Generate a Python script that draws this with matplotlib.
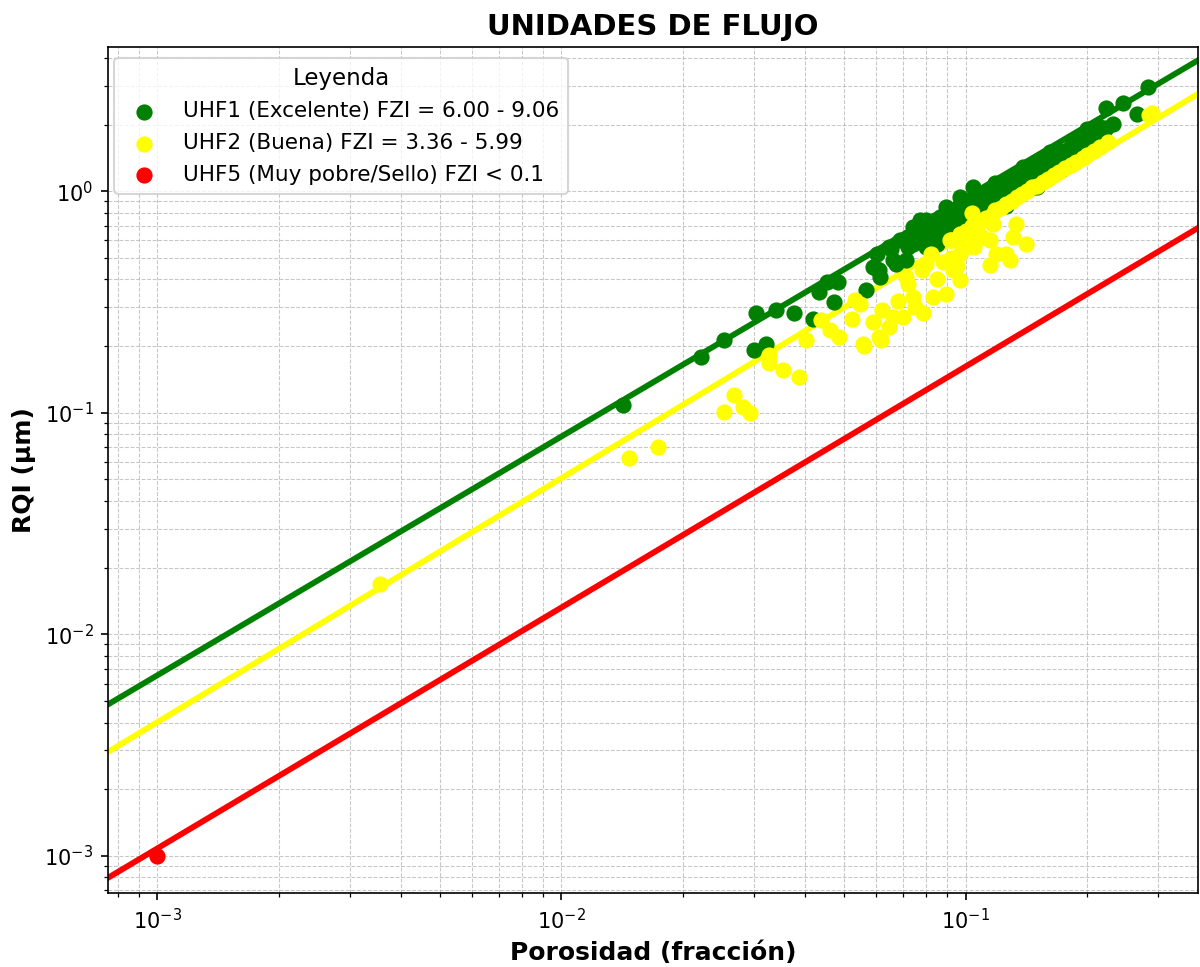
import numpy as np
import matplotlib
matplotlib.use("Agg")
import matplotlib.pyplot as plt

# --- Flow-unit samples: porosity (fraction) and RQI (um) ---
uhf1_phi = [0.0142, 0.0222, 0.0253, 0.0300, 0.0320, 0.0303, 0.0339, 0.0377, 0.0418,
            0.0434, 0.0473, 0.0455, 0.0482, 0.0567, 0.0605, 0.0605, 0.0611, 0.0615,
            0.0654, 0.0673, 0.0712, 0.0719, 0.0740, 0.0770, 0.0799, 0.0830, 0.0863,
            0.0896, 0.0930, 0.0966, 0.1004, 0.1043, 0.1063,
            0.0589, 0.0648, 0.0660, 0.0755, 0.0800, 0.0830, 0.0740, 0.0950,
            0.085, 0.087, 0.088, 0.090, 0.091, 0.093, 0.094, 0.096, 0.097, 0.098,
            0.100, 0.101, 0.102, 0.104, 0.105, 0.106, 0.108, 0.109, 0.110, 0.112,
            0.113, 0.115, 0.116, 0.117, 0.119, 0.120, 0.121, 0.123, 0.125, 0.126,
            0.128, 0.130, 0.131, 0.133, 0.135, 0.136, 0.138, 0.140, 0.142, 0.144,
            0.146, 0.148, 0.150, 0.152, 0.154, 0.156, 0.158, 0.160, 0.163, 0.166,
            0.168, 0.171, 0.174, 0.176, 0.179, 0.182, 0.185, 0.188, 0.191, 0.194,
            0.197, 0.200, 0.204, 0.207, 0.211, 0.215, 0.219, 0.223,
            0.100, 0.104, 0.112, 0.126, 0.150, 0.095, 0.090, 0.085, 0.080,
            0.088, 0.092, 0.096, 0.099, 0.103, 0.107, 0.111, 0.114, 0.118, 0.122,
            0.127, 0.132, 0.137, 0.141, 0.147, 0.153, 0.159, 0.165, 0.172, 0.178,
            0.186, 0.193, 0.202, 0.212,
            0.106, 0.118, 0.139, 0.162, 0.185, 0.205, 0.215, 0.200,
            0.072, 0.078, 0.081, 0.084, 0.076, 0.069,
            0.223, 0.245, 0.231, 0.266, 0.282, 0.210]
uhf1_rqi = [0.109, 0.179, 0.213, 0.192, 0.204, 0.282, 0.290, 0.282, 0.266,
            0.351, 0.316, 0.389, 0.389, 0.357, 0.523, 0.448, 0.440, 0.410,
            0.551, 0.471, 0.488, 0.622, 0.690, 0.739, 0.644, 0.714, 0.765,
            0.849, 0.690, 0.942, 0.820, 1.044, 0.879,
            0.455, 0.560, 0.488, 0.666, 0.740, 0.620, 0.580, 0.666,
            0.66, 0.74, 0.70, 0.78, 0.72, 0.80, 0.75, 0.84, 0.71, 0.78,
            0.88, 0.76, 0.83, 0.92, 0.80, 0.87, 0.95, 0.84, 0.90, 0.99,
            0.86, 0.94, 1.03, 0.90, 0.98, 1.07, 0.93, 1.02, 1.10, 0.97,
            1.06, 1.15, 1.00, 1.10, 1.20, 1.04, 1.14, 1.25, 1.08, 1.18,
            1.30, 1.12, 1.22, 1.34, 1.16, 1.27, 1.40, 1.20, 1.32, 1.45,
            1.26, 1.38, 1.52, 1.32, 1.45, 1.60, 1.40, 1.52, 1.68, 1.48,
            1.60, 1.76, 1.56, 1.68, 1.84, 1.65, 1.78, 1.93,
            0.70, 0.67, 0.76, 0.86, 1.04, 0.66, 0.62, 0.58, 0.56,
            0.62, 0.66, 0.68, 0.72, 0.74, 0.78, 0.82, 0.80, 0.86, 0.88,
            0.92, 0.95, 0.99, 1.02, 1.05, 1.10, 1.14, 1.20, 1.25, 1.30,
            1.36, 1.42, 1.50, 1.58,
            0.98, 1.09, 1.29, 1.50, 1.70, 1.88, 1.95, 1.90,
            0.56, 0.60, 0.68, 0.74, 0.66, 0.60,
            2.38, 2.50, 2.02, 2.24, 2.95, 1.76]

uhf2_phi = [0.00356, 0.0147, 0.0173, 0.0268, 0.0253, 0.0282, 0.0292, 0.0327, 0.0327,
            0.0354, 0.0388, 0.0402, 0.0438, 0.0463, 0.0486, 0.0524, 0.0534, 0.0561,
            0.0589, 0.0617, 0.0660, 0.0557, 0.0611, 0.0547, 0.0648, 0.0700, 0.0740,
            0.0712, 0.0799, 0.0830, 0.0896, 0.0930, 0.0966, 0.1004, 0.0966, 0.0784,
            0.1023, 0.1146, 0.1260, 0.1168, 0.1334, 0.1413, 0.1309, 0.1190, 0.1146,
            0.1290, 0.1040, 0.0913,
            0.072, 0.078, 0.085, 0.088, 0.092, 0.095, 0.098, 0.082, 0.105, 0.110,
            0.075, 0.068, 0.062,
            0.092, 0.097, 0.100, 0.104, 0.108, 0.112, 0.116, 0.118, 0.122, 0.126,
            0.130, 0.134, 0.138, 0.142, 0.146, 0.150, 0.155, 0.160, 0.165, 0.170,
            0.176, 0.182, 0.188, 0.195, 0.200, 0.208, 0.215, 0.225, 0.285, 0.290]
uhf2_rqi = [0.0169, 0.0622, 0.0702, 0.120, 0.101, 0.106, 0.0993, 0.182, 0.167,
            0.156, 0.145, 0.213, 0.262, 0.236, 0.220, 0.266, 0.322, 0.200,
            0.257, 0.213, 0.271, 0.205, 0.220, 0.311, 0.244, 0.271, 0.333,
            0.410, 0.471, 0.333, 0.345, 0.440, 0.523, 0.644, 0.397, 0.281,
            0.644, 0.600, 0.523, 0.714, 0.714, 0.580, 0.621, 0.523, 0.463,
            0.490, 0.795, 0.600,
            0.38, 0.44, 0.40, 0.48, 0.50, 0.46, 0.55, 0.52, 0.56, 0.62,
            0.30, 0.32, 0.29,
            0.60, 0.64, 0.66, 0.70, 0.72, 0.76, 0.78, 0.82, 0.84, 0.88,
            0.90, 0.94, 0.97, 1.00, 1.04, 1.06, 1.10, 1.14, 1.18, 1.22,
            1.27, 1.31, 1.36, 1.42, 1.46, 1.52, 1.58, 1.66, 2.20, 2.26]

uhf5_phi = [0.001]
uhf5_rqi = [0.001]

# Trend lines RQI = a * phi**b for each flow unit
trend_green = (11.2, 1.078)
trend_yellow = (8.09, 1.1014)
trend_red = (1.98, 1.0876)

labels = ["UHF1 (Excelente) FZI = 6.00 - 9.06",
          "UHF2 (Buena) FZI = 3.36 - 5.99",
          "UHF5 (Muy pobre/Sello) FZI < 0.1"]

fig = plt.figure(figsize=(8.0, 6.4467), dpi=150)
ax = fig.add_axes([0.09, 0.0765, 0.908, 0.8745])
ax.set_xscale("log")
ax.set_yscale("log")
xlim = (7.55e-4, 0.375)
ylim = (6.8e-4, 4.46)
ax.set_xlim(*xlim)
ax.set_ylim(*ylim)

phi_line = np.logspace(np.log10(xlim[0]), np.log10(xlim[1]), 200)
for (a, b), col in [(trend_green, "green"), (trend_yellow, "yellow"), (trend_red, "red")]:
    ax.plot(phi_line, a * phi_line ** b, color=col, lw=2.8, zorder=2)

ax.scatter(uhf1_phi, uhf1_rqi, color="green", s=46, label=labels[0], zorder=3)
ax.scatter(uhf2_phi, uhf2_rqi, color="yellow", s=46, label=labels[1], zorder=3)
ax.scatter(uhf5_phi, uhf5_rqi, color="red", s=46, label=labels[2], zorder=3)

ax.grid(True, which="both", linestyle="--", linewidth=0.5, color="#b0b0b0", alpha=0.7)
ax.set_title("UNIDADES DE FLUJO", fontsize=14, fontweight="bold")
ax.set_xlabel("Porosidad (fracción)", fontsize=12, fontweight="bold")
ax.set_ylabel("RQI (µm)", fontsize=12, fontweight="bold")
ax.legend(title="Leyenda", loc="upper left", bbox_to_anchor=(-0.004, 1.0),
          fontsize=10.3, title_fontsize=11, labelspacing=0.55)

fig.savefig("out.png", dpi=150)
